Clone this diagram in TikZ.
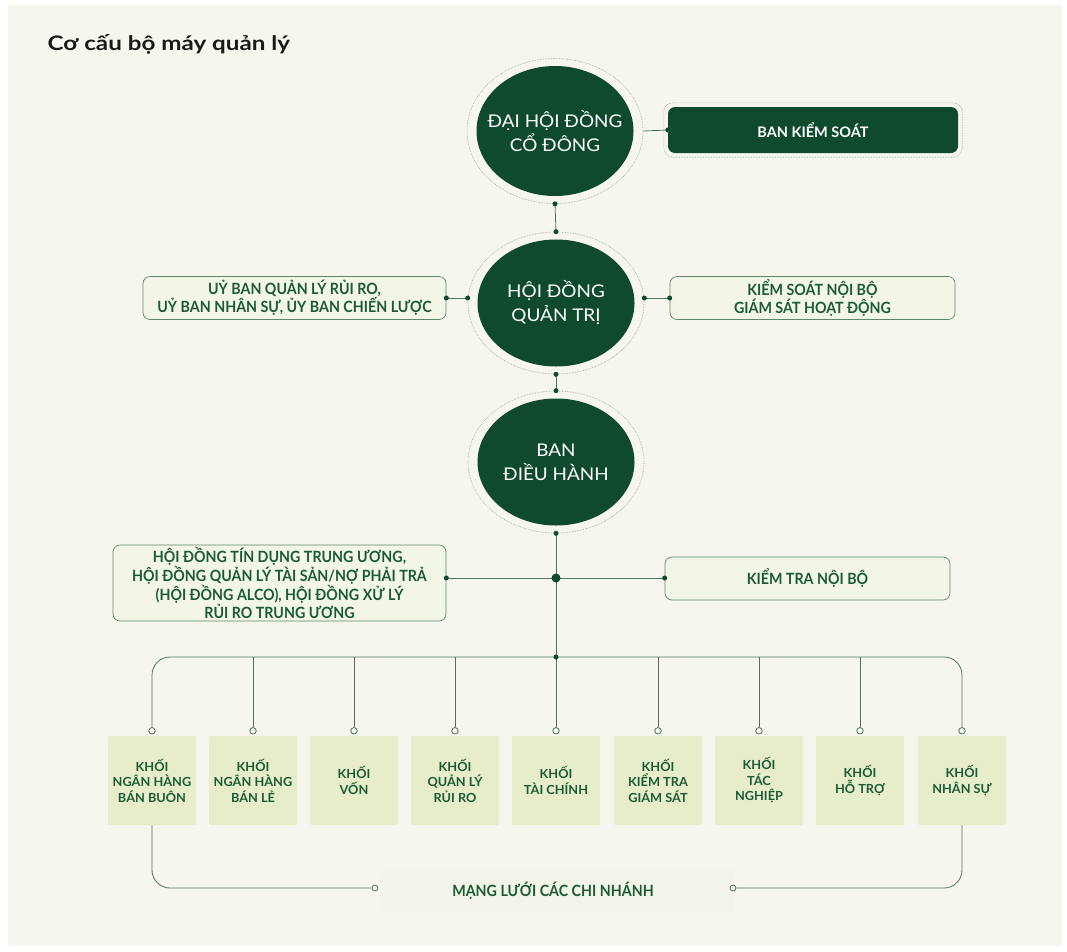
\documentclass[tikz,border=0pt]{standalone}
\usepackage{fontspec}
\setmainfont{Lato}
\newfontfamily\condf[FakeStretch=0.92]{Lato}
\newfontfamily\titlef[FakeStretch=1.21]{Lato}
\newfontfamily\widef[FakeStretch=1.02]{Lato}
\newfontfamily\circf[FakeStretch=1.08]{Lato}
\usetikzlibrary{shapes.geometric}
\definecolor{bg}{HTML}{F6F6EE}
\definecolor{dk}{HTML}{0F4A2E}
\definecolor{ln}{HTML}{4A7560}
\definecolor{ring}{HTML}{8FA395}
\definecolor{lbox}{HTML}{F3F5E6}
\definecolor{lbord}{HTML}{5E876A}
\definecolor{gbox}{HTML}{E7ECCB}
\definecolor{gtxt}{HTML}{1C5C35}
\definecolor{netbg}{HTML}{F3F4E9}
\tikzset{
  dkell/.style={ellipse, fill=dk, minimum width=157pt, minimum height=130pt, inner sep=0pt},
  circtext/.style={text=white, align=center, inner sep=0pt, font=\circf\fontsize{17.5}{24}\selectfont},
  ringell/.style={ellipse, draw=ring, densely dotted, line width=0.6pt, minimum width=176pt, minimum height=145pt, inner sep=0pt},
  dkbox/.style={rectangle, rounded corners=7pt, fill=dk, text=white, font=\bfseries\fontsize{14.5}{17}\selectfont, inner sep=0pt},
  lightbox/.style={rectangle, rounded corners=7pt, fill=lbox, draw=lbord, line width=0.7pt, text=gtxt, align=center, inner sep=0pt, font=\condf\bfseries\fontsize{15.5}{17}\selectfont},
  unitbox/.style={rectangle, rounded corners=2pt, fill=gbox, text=gtxt, align=center, inner sep=0pt, minimum width=88pt, minimum height=89pt, font=\widef\bfseries\fontsize{12.5}{15.5}\selectfont},
  conn/.style={draw=ln, line width=0.8pt},
  dotn/.style={circle, fill=dk, inner sep=0pt, minimum size=5pt},
  bigdot/.style={circle, fill=dk, inner sep=0pt, minimum size=9pt},
  oc/.style={circle, draw=ln, fill=bg, line width=0.8pt, inner sep=0pt, minimum size=6.5pt},
}
\begin{document}
\begin{tikzpicture}[x=1pt,y=-1pt]
\fill[white] (0,0) rectangle (1067,951);
\fill[bg] (8,5) rectangle (1062,946);
\useasboundingbox (0,0) rectangle (1067,951);

\node[anchor=base west, font=\titlef\bfseries\fontsize{20}{24}\selectfont, text=black!90] (title) at (44,50) {Cơ cấu bộ máy quản lý};

% circles
\node[ringell] (r1) at (555,131) {};
\node[dkell] (c1) at (555,131) {};
\node[circtext] (t1) at (c1.center) {ĐẠI HỘI ĐỒNG\\CỔ ĐÔNG};
\node[ringell, minimum height=142pt] (r2) at (556,303) {};
\node[dkell, minimum height=127pt] (c2) at (556,303) {};
\node[circtext] (t2) at (c2.center) {HỘI ĐỒNG\\QUẢN TRỊ};
\node[ringell, minimum height=142pt] (r3) at (556,462) {};
\node[dkell, minimum height=127pt] (c3) at (556,462) {};
\node[circtext] (t3) at (c3.center) {BAN\\ĐIỀU HÀNH};

% ban kiem soat
\node[dkbox, minimum width=290pt, minimum height=46pt] (bks) at (813,130) {BAN KIỂM SOÁT};
\draw[ring, densely dotted, line width=0.6pt, rounded corners=9pt] ([xshift=-4pt,yshift=-4pt]bks.south west) rectangle ([xshift=4pt,yshift=4pt]bks.north east);
\draw[conn] (r1.east) -- (bks.west);
\node[dotn] at (bks.west) {};

% row 2
\node[lightbox, minimum width=303pt, minimum height=43pt] (l2) at (294.5,298) {UỶ BAN QUẢN LÝ RỦI RO,\\UỶ BAN NHÂN SỰ, ỦY BAN CHIẾN LƯỢC};
\node[lightbox, minimum width=285pt, minimum height=43pt] (rt2) at (812.5,298) {KIỂM SOÁT NỘI BỘ\\GIÁM SÁT HOẠT ĐỘNG};
\draw[conn] (l2.east) -- (l2.east -| r2.west);
\draw[conn] (rt2.west) -- (rt2.west -| r2.east);
\node[dotn] at (l2.east) {};
\node[dotn] at (l2.east -| r2.west) {};
\node[dotn] at (rt2.west) {};
\node[dotn] at (rt2.west -| r2.east) {};

% vertical links between circles
\draw[conn] (r1.south) -- (r2.north);
\draw[conn] (r2.south) -- (r3.north);
\node[dotn] at (r1.south) {};
\node[dotn] at (r2.north) {};
\node[dotn] at (r2.south) {};
\node[dotn] at (r3.north) {};

% row 3
\coordinate (J) at (556,578);
\coordinate (bus) at (556,657);
\node[lightbox, minimum width=333pt, minimum height=76pt] (l3) at (279.5,583) {HỘI ĐỒNG TÍN DỤNG TRUNG ƯƠNG,\\HỘI ĐỒNG QUẢN LÝ TÀI SẢN/NỢ PHẢI TRẢ\\(HỘI ĐỒNG ALCO), HỘI ĐỒNG XỬ LÝ\\RỦI RO TRUNG ƯƠNG};
\node[lightbox, minimum width=285pt, minimum height=43pt] (rt3) at (807.5,578.5) {KIỂM TRA NỘI BỘ};
\draw[conn] (r3.south) -- (bus);
\draw[conn] (J -| l3.east) -- (J -| rt3.west);
\node[dotn] at (r3.south) {};
\node[dotn] at (J -| l3.east) {};
\node[dotn] at (J -| rt3.west) {};
\node[bigdot] at (J) {};

% unit boxes
\node[unitbox] (b1) at (152,780.5) {KHỐI\\NGÂN HÀNG\\BÁN BUÔN};
\node[unitbox] (b2) at (253,780.5) {KHỐI\\NGÂN HÀNG\\BÁN LẺ};
\node[unitbox] (b3) at (354,780.5) {KHỐI\\VỐN};
\node[unitbox] (b4) at (455,780.5) {KHỐI\\QUẢN LÝ\\RỦI RO};
\node[unitbox] (b5) at (556,780.5) {KHỐI\\TÀI CHÍNH};
\node[unitbox] (b6) at (658,780.5) {KHỐI\\KIỂM TRA\\GIÁM SÁT};
\node[unitbox] (b7) at (759,780.5) {KHỐI\\TÁC\\NGHIỆP};
\node[unitbox] (b8) at (860,780.5) {KHỐI\\HỖ TRỢ};
\node[unitbox] (b9) at (962,780.5) {KHỐI\\NHÂN SỰ};

\foreach \i in {1,...,9} {
  \node[oc] (o\i) at ([yshift=5pt]b\i.north) {};
}
\draw[conn, rounded corners=18pt] (o1.north) -- (o1.north |- bus) -- (o9.north |- bus) -- (o9.north);
\foreach \i in {2,...,8} {
  \draw[conn] (o\i.north) -- (o\i.north |- bus);
}
\node[dotn] at (bus) {};

% network
\coordinate (net) at (553,888);
\fill[netbg] (380,871) rectangle (735,912);
\node[font=\condf\bfseries\fontsize{15.5}{17}\selectfont, text=gtxt] (mang) at (553,891) {MẠNG LƯỚI CÁC CHI NHÁNH};
\node[oc, minimum size=6pt] (ol) at (375,888) {};
\node[oc, minimum size=6pt] (or) at (733,888) {};
\draw[conn, rounded corners=18pt] (b1.south) -- (b1.south |- net) -- (ol.west);
\draw[conn, rounded corners=18pt] (b9.south) -- (b9.south |- net) -- (or.east);
\end{tikzpicture}
\end{document}
